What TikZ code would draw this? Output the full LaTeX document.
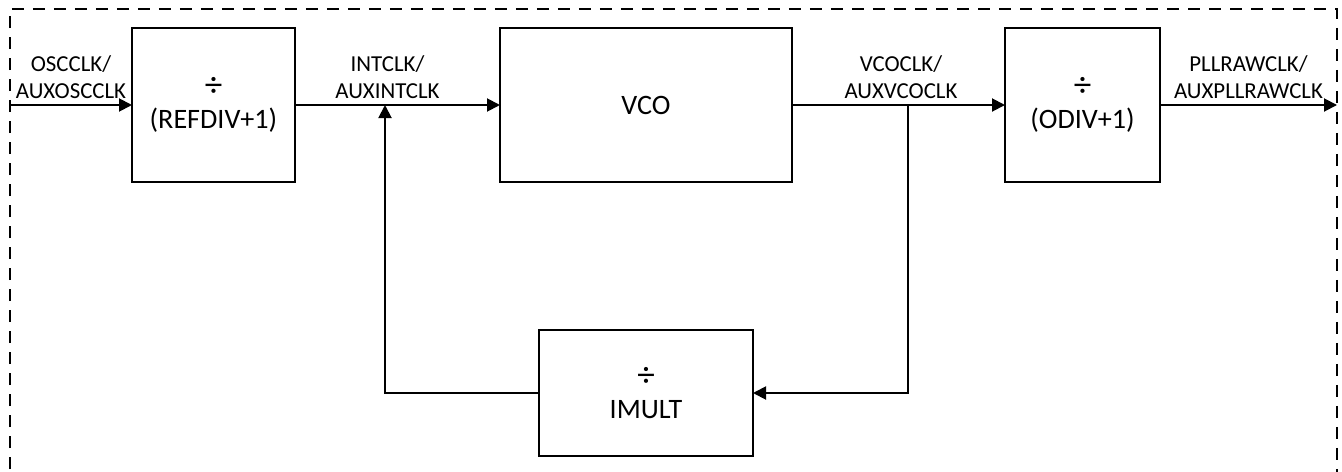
\documentclass[tikz,border=0pt]{standalone}
\usepackage{fontspec}
\setmainfont{Carlito}
\usepackage{tikz}
\usetikzlibrary{arrows.meta, positioning}

\newcommand{\divsign}{{\fontsize{20}{18}\selectfont ÷}}

\begin{document}
\begin{tikzpicture}[line width=1.1pt, >={Triangle[length=0.26cm, width=0.26cm]}]

	\tikzset{
		block/.style={
				rectangle, draw=black, line width=1.1pt, inner sep=0pt, outer sep=0pt, align=center,
				font=\fontsize{16}{18}\selectfont, minimum width=3.2cm, minimum height=3.08cm
			},
		sig/.style={
				->, line width=1.1pt
			},
		lbl/.style={
				above, align=center, inner sep=3pt, font=\fontsize{13}{15.5}\selectfont
			},
	}

	\useasboundingbox (0,0) rectangle (26.84,-9.44);
	\draw[line width=1pt, dash pattern=on 0.24cm off 0.18cm] (0.2,-9.8) |- (26.74,-0.18) -- (26.74,-9.8);

	\node[block, minimum width=3.26cm] (refdiv) at (4.27,-2.1) {\divsign\\(REFDIV+1)};
	\node[block, minimum width=5.84cm, right=4.1cm of refdiv] (vco) {VCO};
	\node[block, minimum width=3.1cm, right=4.26cm of vco] (odiv) {\divsign\\(ODIV+1)};
	\node[block, minimum width=4.28cm, minimum height=2.52cm, below=2.96cm of vco] (imult) {\divsign\\IMULT};

	\coordinate (in) at (0.2,-2.1);
	\coordinate (out) at (26.74,-2.1);
	\coordinate[right=2.32cm of vco.east] (tap);
	\coordinate[right=1.8cm of refdiv.east] (fb);

	\draw[sig] (in) to node[lbl] {OSCCLK/\\AUXOSCCLK} (refdiv);
	\draw[sig] (refdiv) to node[lbl, xshift=-0.2cm] {INTCLK/\\AUXINTCLK} (vco);
	\draw[sig] (vco) to node[lbl, xshift=0.05cm] {VCOCLK/\\AUXVCOCLK} (odiv);
	\draw[sig] (odiv) to node[lbl] {PLLRAWCLK/\\AUXPLLRAWCLK} (out);

	\draw[sig] (tap) |- (imult);
	\draw[sig] (imult) -| (fb);
\end{tikzpicture}
\end{document}
